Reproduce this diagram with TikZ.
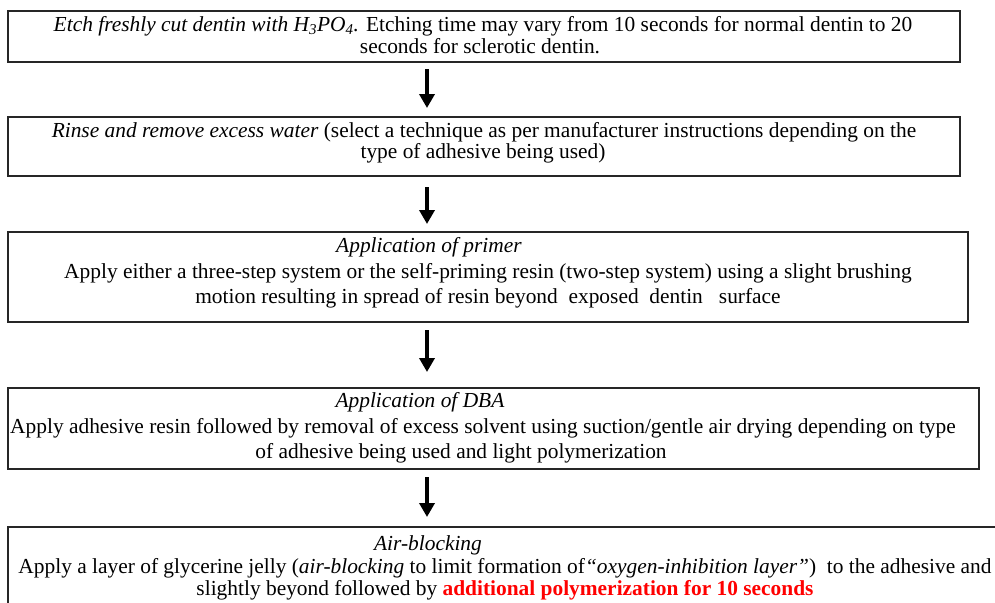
\documentclass[tikz,border=0pt]{standalone}
\usepackage{fontspec}
\setmainfont{Liberation Serif}
\usetikzlibrary{arrows.meta}
\begin{document}
\begin{tikzpicture}[x=1pt,y=-1pt,
  box/.style={draw=black!85, line width=1.5pt, inner sep=0pt, outer sep=0pt},
  txt/.style={anchor=base, inner sep=0pt, font=\fontsize{21.4}{24}\selectfont},
  arr/.style={line width=3.5pt, -{Triangle[width=15pt,length=14pt]}}]
\useasboundingbox (0,0) rectangle (995,602);
\node[box, minimum width=952pt, minimum height=51pt] (b1) at (484,36.5) {};
\node[box, minimum width=952pt, minimum height=59pt] (b2) at (484,146.5) {};
\node[box, minimum width=960pt, minimum height=90pt] (b3) at (488,277) {};
\node[box, minimum width=971pt, minimum height=81pt] (b4) at (493.5,428.5) {};
\node[box, minimum width=998pt, minimum height=86pt] (b5) at (507,570) {};
\coordinate (ax) at (427,0);
\draw[arr, shorten <=7pt, shorten >=9pt] (b1.south -| ax) -- (b2.north -| ax);
\draw[arr, shorten <=11pt, shorten >=8pt] (b2.south -| ax) -- (b3.north -| ax);
\draw[arr, shorten <=8pt, shorten >=16pt] (b3.south -| ax) -- (b4.north -| ax);
\draw[arr, shorten <=8pt, shorten >=10pt] (b4.south -| ax) -- (b5.north -| ax);
% box 1
\node[txt] (t11) at (483,31.5) {\textit{Etch freshly cut dentin with H\textsubscript{3}PO\textsubscript{4}.} Etching time may vary from 10 seconds for normal dentin to 20};
\node[txt] (t12) at (480,53) {seconds for sclerotic dentin.};
% box 2
\node[txt] (t21) at (484,137) {\textit{Rinse and remove excess water} (select a technique as per manufacturer instructions depending on the};
\node[txt] (t22) at (483,158) {type of adhesive being used)};
% box 3
\node[txt] (t30) at (429,252) {\textit{Application of primer}};
\node[txt] (t31) at (488,278) {Apply either a three-step system or the self-priming resin (two-step system) using a slight brushing};
\node[txt] (t32) at (488,303) {motion resulting in spread of resin beyond\ \ exposed\ \ dentin\ \ \ surface};
% box 4
\node[txt] (t40) at (420,407) {\textit{Application of DBA}};
\node[txt] (t41) at (483,433) {Apply adhesive resin followed by removal of excess solvent using suction/gentle air drying depending on type};
\node[txt] (t42) at (461,458) {of adhesive being used and light polymerization};
% box 5
\node[txt] (t50) at (428,550) {\textit{Air-blocking}};
\node[txt] (t51) at (505,573) {Apply a layer of glycerine jelly (\textit{air-blocking} to limit formation of\textit{“oxygen-inhibition layer”})\ \ to the adhesive and};
\node[txt] (t52) at (505,595) {slightly beyond followed by \textcolor{red}{\textbf{additional polymerization for 10 seconds}}};
\end{tikzpicture}
\end{document}
